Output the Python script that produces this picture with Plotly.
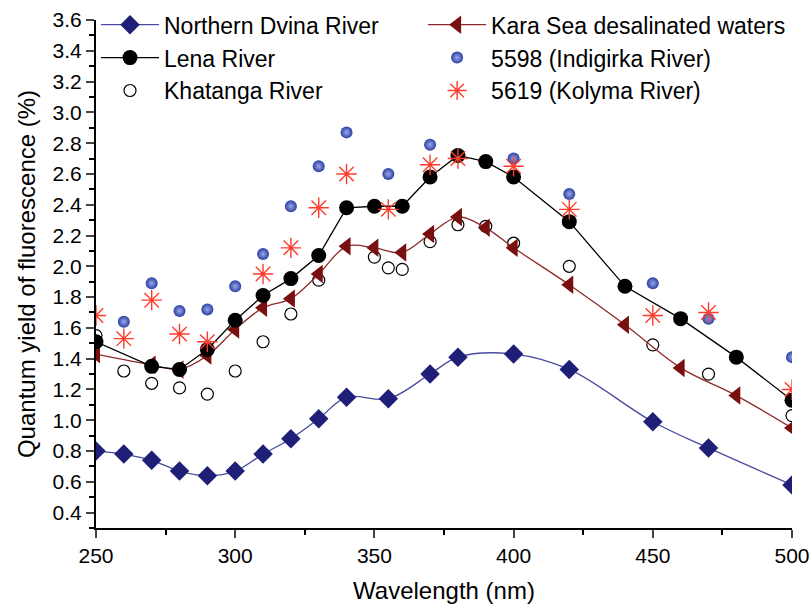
import plotly.graph_objects as go

# Northern Dvina River
dvina_x = [250, 260, 270, 280, 290, 300, 310, 320, 330, 340, 355, 370, 380, 400, 420, 450, 470, 500]
dvina_y = [0.80, 0.78, 0.74, 0.67, 0.64, 0.67, 0.78, 0.88, 1.01, 1.15, 1.14, 1.30, 1.41, 1.43, 1.33, 0.99, 0.82, 0.58]

# Lena River
lena_x = [250, 270, 280, 290, 300, 310, 320, 330, 340, 350, 360, 370, 380, 390, 400, 420, 440, 460, 480, 500]
lena_y = [1.51, 1.35, 1.33, 1.46, 1.65, 1.81, 1.92, 2.07, 2.38, 2.39, 2.39, 2.58, 2.72, 2.68, 2.58, 2.29, 1.87, 1.66, 1.41, 1.13]

# Kara Sea desalinated waters
kara_x = [250, 270, 280, 290, 300, 310, 320, 330, 340, 350, 360, 370, 380, 390, 400, 420, 440, 460, 480, 500]
kara_y = [1.43, 1.36, 1.33, 1.42, 1.59, 1.73, 1.79, 1.95, 2.13, 2.12, 2.09, 2.21, 2.32, 2.25, 2.12, 1.88, 1.62, 1.34, 1.16, 0.95]

# Khatanga River
khat_x = [250, 260, 270, 280, 290, 300, 310, 320, 330, 350, 355, 360, 370, 380, 390, 400, 420, 450, 470, 500]
khat_y = [1.55, 1.32, 1.24, 1.21, 1.17, 1.32, 1.51, 1.69, 1.91, 2.06, 1.99, 1.98, 2.16, 2.27, 2.26, 2.15, 2.00, 1.49, 1.30, 1.03]

# 5598 (Indigirka River)
indi_x = [260, 270, 280, 290, 300, 310, 320, 330, 340, 355, 370, 400, 420, 450, 470, 500]
indi_y = [1.64, 1.89, 1.71, 1.72, 1.87, 2.08, 2.39, 2.65, 2.87, 2.60, 2.79, 2.70, 2.47, 1.89, 1.66, 1.41]

# 5619 (Kolyma River)
koly_x = [250, 260, 270, 280, 290, 310, 320, 330, 340, 355, 370, 380, 400, 420, 450, 470, 500]
koly_y = [1.68, 1.53, 1.78, 1.56, 1.51, 1.95, 2.12, 2.38, 2.60, 2.37, 2.66, 2.70, 2.65, 2.37, 1.68, 1.70, 1.20]

FONT = "Liberation Sans, Arial, sans-serif"

fig = go.Figure()

fig.add_trace(go.Scatter(
    x=khat_x, y=khat_y, mode="markers", name="Khatanga River",
    marker=dict(symbol="circle-open", size=12, color="black", line=dict(width=1.2, color="black")),
    legend="legend", legendrank=3))

fig.add_trace(go.Scatter(
    x=dvina_x, y=dvina_y, mode="lines+markers", name="Northern Dvina River",
    line=dict(color="#4a4aa0", width=1.3, shape="spline", smoothing=1.0),
    marker=dict(symbol="diamond", size=15, color="#1f1f78"),
    legend="legend", legendrank=1))

fig.add_trace(go.Scatter(
    x=kara_x, y=kara_y, mode="lines+markers", name="Kara Sea desalinated waters",
    line=dict(color="#8e2a2a", width=1.3, shape="spline", smoothing=1.0),
    marker=dict(symbol="triangle-left", size=16, color="#7a0f0f"),
    legend="legend2", legendrank=1))

fig.add_trace(go.Scatter(
    x=lena_x, y=lena_y, mode="lines+markers", name="Lena River",
    line=dict(color="black", width=1.3),
    marker=dict(symbol="circle", size=15, color="black"),
    legend="legend", legendrank=2))

fig.add_trace(go.Scatter(
    x=indi_x, y=indi_y, mode="markers", name="5598 (Indigirka River)",
    marker=dict(symbol="circle", size=12, color="#2c3fa3",
                gradient=dict(type="radial", color="#9aa8e8")),
    legend="legend2", legendrank=2))

fig.add_trace(go.Scatter(
    x=koly_x, y=koly_y, mode="markers", name="5619 (Kolyma River)",
    marker=dict(symbol="asterisk-open", size=17, color="#ff3b2b", line=dict(width=1.4, color="#ff3b2b")),
    legend="legend2", legendrank=3))

fig.update_layout(
    width=811, height=609,
    margin=dict(l=96, r=19, t=20, b=81, autoexpand=False),
    paper_bgcolor="white", plot_bgcolor="white",
    font=dict(family=FONT, size=21, color="black"),
    legend=dict(x=0.0, y=1.033, xanchor="left", yanchor="top",
                bgcolor="rgba(0,0,0,0)",
                font=dict(size=23, family=FONT), itemwidth=58, traceorder="normal"),
    legend2=dict(x=0.47, y=1.033, xanchor="left", yanchor="top",
                 bgcolor="rgba(0,0,0,0)",
                 font=dict(size=23, family=FONT), itemwidth=58, traceorder="normal"),
    xaxis=dict(range=[250, 500], dtick=50, tick0=250, ticks="outside", ticklen=8, tickwidth=2,
               automargin=False,
               showline=True, linewidth=2, linecolor="black", showgrid=False, zeroline=False,
               tickfont=dict(size=21, family=FONT),
               minor=dict(dtick=25, ticks="outside", ticklen=5, tickwidth=2, tickcolor="black", showgrid=False),
               title=dict(text="Wavelength (nm)", font=dict(size=24, family=FONT), standoff=16)),
    yaxis=dict(range=[0.3, 3.6], dtick=0.2, tick0=0.4, ticks="outside", ticklen=8, tickwidth=2,
               tickformat=".1f", automargin=False,
               showline=True, linewidth=2, linecolor="black", showgrid=False, zeroline=False,
               tickfont=dict(size=21, family=FONT),
               minor=dict(dtick=0.1, ticks="outside", ticklen=5, tickwidth=2, tickcolor="black", showgrid=False),
               title=dict(text="Quantum yield of fluorescence (%)", font=dict(size=24, family=FONT), standoff=10)),
)

fig.write_html("out.html")
